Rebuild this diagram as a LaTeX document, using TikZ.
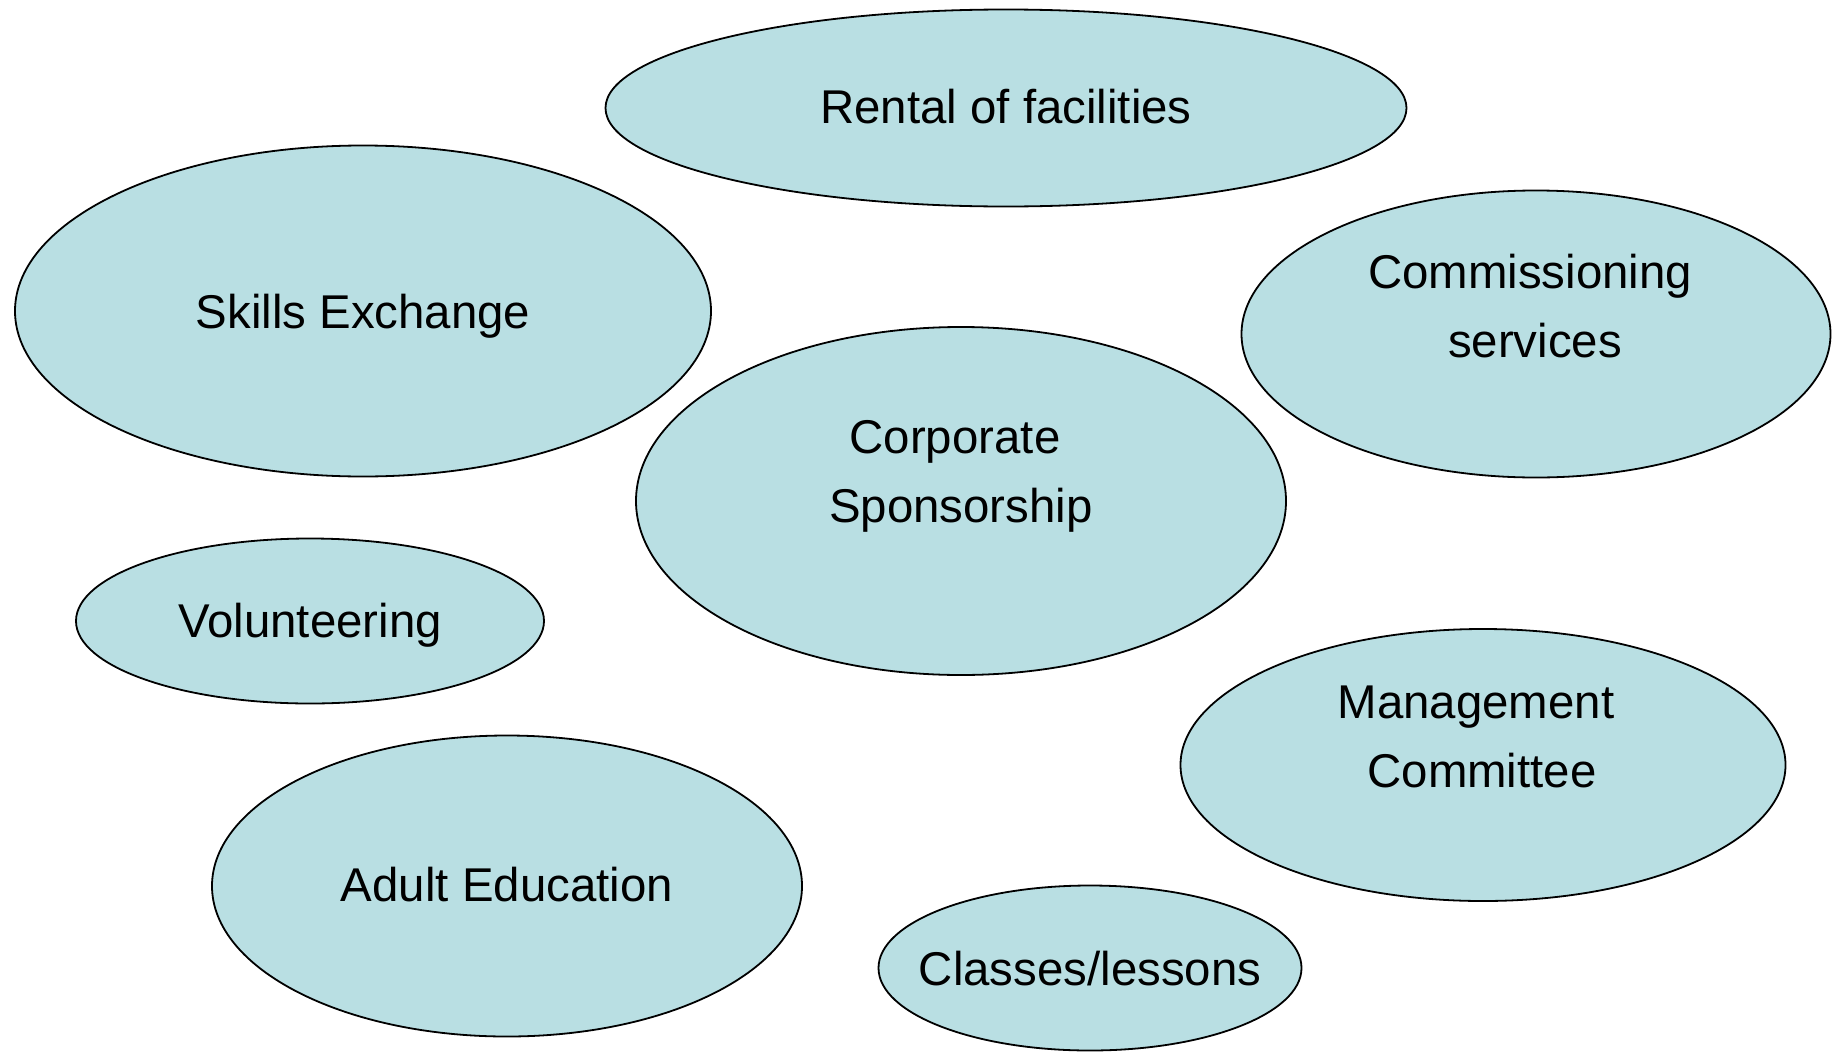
\documentclass[tikz,border=0pt]{standalone}
\usepackage{fontspec}
\setmainfont{Liberation Sans}
\usetikzlibrary{shapes.geometric}
\definecolor{blobfill}{RGB}{185,223,227}
\tikzset{
  blob/.style={ellipse, draw=black, line width=1.8pt, fill=blobfill, inner sep=0pt, outer sep=0pt},
  lbl/.style={inner sep=0pt, text height=34pt, text depth=0pt, font=\fontsize{47.4}{70}\selectfont, text=black}
}
\begin{document}
\begin{tikzpicture}[x=1pt,y=-1pt]
\useasboundingbox[fill=white] (0,0) rectangle (1836,1052);
% ellipses
\node[blob, minimum width=801, minimum height=197] (rental) at (1006,108) {};
\node[blob, minimum width=696, minimum height=331] (skills) at (363,311) {};
\node[blob, minimum width=589, minimum height=287] (comm) at (1536,334) {};
\node[blob, minimum width=650, minimum height=348] (corp) at (961,501) {};
\node[blob, minimum width=468, minimum height=165] (vol) at (310,621) {};
\node[blob, minimum width=605, minimum height=272] (mgmt) at (1483,765) {};
\node[blob, minimum width=590, minimum height=301] (adult) at (507,886) {};
\node[blob, minimum width=423, minimum height=165] (classes) at (1090,968) {};
% labels
\node[lbl] (t1) at ([yshift=2pt]rental.center) {Rental of facilities};
\node[lbl] (t2) at (skills.center) {Skills Exchange};
\node[lbl] (t3a) at (1530,271) {Commissioning};
\node[lbl] (t3b) at (1535,340) {services};
\node[lbl] (t4a) at (955,436) {Corporate};
\node[lbl] (t4b) at (961,505) {Sponsorship};
\node[lbl] (t5) at ([yshift=1pt]vol.center) {Volunteering};
\node[lbl] (t6a) at (1476,701) {Management};
\node[lbl] (t6b) at (1482,770) {Committee};
\node[lbl] (t7) at ([yshift=1.5pt]adult.center) {Adult Education};
\node[lbl] (t8) at (classes.center) {Classes/lessons};
\end{tikzpicture}
\end{document}
